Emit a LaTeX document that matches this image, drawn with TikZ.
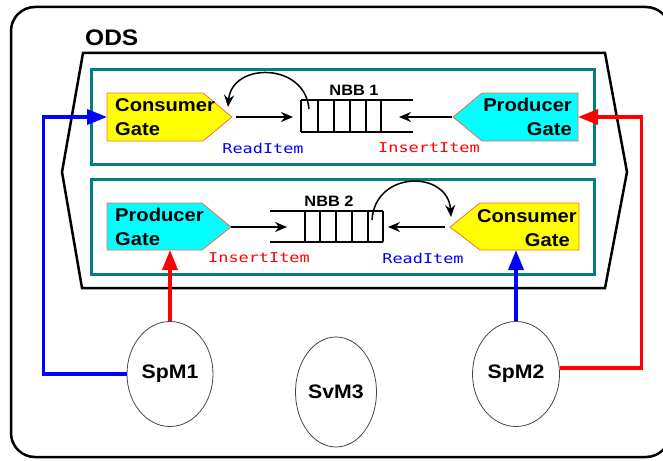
\documentclass[tikz,border=0pt]{standalone}
\usepackage{fontspec}
\setmainfont{Liberation Sans}[FakeStretch=1.09]
\newfontfamily\labelmono{DejaVu Sans Mono}[FakeStretch=1.25]
\usetikzlibrary{arrows.meta,shapes.geometric}
\definecolor{tealbox}{RGB}{0,128,128}
\definecolor{gateedge}{RGB}{255,105,60}
\definecolor{gateyellow}{RGB}{255,255,0}
\definecolor{gatecyan}{RGB}{0,255,255}
\definecolor{ellgray}{RGB}{70,70,70}
\begin{document}
\begin{tikzpicture}[x=1pt,y=-1pt,
  frame/.style={line width=2.5pt},
  tealframe/.style={draw=tealbox,line width=3pt},
  gateY/.style={fill=gateyellow,draw=gateedge,line width=0.8pt},
  gateC/.style={fill=gatecyan,draw=gateedge,line width=0.8pt},
  gatetxt/.style={inner sep=0pt,font=\bfseries\fontsize{18.5}{24}\selectfont},
  nbbtxt/.style={inner sep=0pt,font=\bfseries\fontsize{15}{18}\selectfont},
  monotxt/.style={inner sep=0pt,font=\labelmono\fontsize{13.5}{15}\selectfont},
  queue/.style={line width=1.5pt},
  flow/.style={line width=1.5pt,-{Stealth[length=12pt,width=10pt]}},
  bigred/.style={draw=red,line width=3.5pt,-{Triangle[length=20pt,width=15pt]}},
  bigblue/.style={draw=blue,line width=3.5pt,-{Triangle[length=20pt,width=15pt]}},
  module/.style={ellipse,draw=ellgray,line width=0.8pt,inner sep=0pt,
    font=\bfseries\fontsize{19.5}{22}\selectfont}]
\useasboundingbox (0,0) rectangle (663,460);
\clip (0,0) rectangle (663,460);
% outer frame
\draw[frame,rounded corners=24pt] (11,7) rectangle (670,457);
\node[inner sep=0pt,anchor=south west,font=\bfseries\fontsize{22.5}{26}\selectfont] (ods) at (85,46) {ODS};
% ODS polygon
\draw[frame,line join=miter] (83,53) -- (605,53) -- (627,172) -- (605,288) -- (82,288) -- (62,172) -- cycle;
% teal boxes
\draw[tealframe] (91,69) rectangle (594,164);
\draw[tealframe] (91,179) rectangle (594,274);

% ---- upper box ----
\draw[gateY] (107,93) -- (203,93) -- (232,117) -- (203,141) -- (107,141) -- cycle;
\coordinate (cg1w) at (107,117);
\coordinate (cg1tip) at (236,117);
\coordinate (cg1arc) at (228,107);
\node[gatetxt,anchor=north west,align=left] (cg1) at (115,98) {Consumer\\Gate};

\draw[gateC] (578,93) -- (482,93) -- (453,117) -- (482,141) -- (578,141) -- cycle;
\coordinate (pg1e) at (578,117);
\coordinate (pg1tip) at (452,117);
\node[gatetxt,anchor=north east,align=right] (pg1) at (572,98) {Producer\\Gate};

% queue 1
\draw[queue] (301,100) -- (413,100);
\draw[queue] (301,132) -- (413,132);
\foreach \x in {301,318,334,350,366,381} \draw[queue] (\x,100) -- (\x,132);
\coordinate (q1in) at (293,117);
\coordinate (q1out) at (399,117);
\coordinate (q1cell) at (309,109);
\node[nbbtxt,anchor=south] (nbb1) at (354,96) {NBB 1};

\draw[flow] (cg1tip) -- (q1in);
\draw[flow] (pg1tip) -- (q1out);
\draw[flow] (q1cell) .. controls (305,62) and (232,62) .. (cg1arc);
\node[monotxt,text=blue] (ri1) at (263,148) {ReadItem};
\node[monotxt,text=red] (ii1) at (429,148) {InsertItem};

% ---- lower box ----
\draw[gateC] (107,203) -- (202,203) -- (231,227) -- (202,250) -- (107,250) -- cycle;
\coordinate (pg2tip) at (231,227);
\coordinate (pg2s) at (170,250);
\node[gatetxt,anchor=north west,align=left] (pg2) at (115,208) {Producer\\Gate};

\draw[gateY] (579,203) -- (480,203) -- (450,227) -- (480,250) -- (579,250) -- cycle;
\coordinate (cg2tip) at (445,227);
\coordinate (cg2arc) at (451,217);
\coordinate (cg2s) at (516,250);
\node[gatetxt,anchor=north east,align=right] (cg2) at (577,209) {Consumer\\Gate\hspace*{7pt}};

% queue 2
\draw[queue] (270,211) -- (383,211);
\draw[queue] (270,242) -- (383,242);
\foreach \x in {305,320,336,352,368,383} \draw[queue] (\x,211) -- (\x,242);
\coordinate (q2in) at (287,227);
\coordinate (q2out) at (388,227);
\coordinate (q2cell) at (372,220);
\node[nbbtxt,anchor=south] (nbb2) at (329,207) {NBB 2};

\draw[flow] (pg2tip) -- (q2in);
\draw[flow] (cg2tip) -- (q2out);
\draw[flow] (q2cell) .. controls (375,170) and (448,170) .. (cg2arc);
\node[monotxt,text=red] (ii2) at (259,258) {InsertItem};
\node[monotxt,text=blue] (ri2) at (423,258) {ReadItem};

% ---- modules ----
\node[module,minimum width=86pt,minimum height=105pt] (spm1) at (170,374) {SpM1};
\node[module,minimum width=81pt,minimum height=110pt] (svm3) at (336,392) {SvM3};
\node[module,minimum width=87pt,minimum height=105pt] (spm2) at (516,374) {SpM2};

% ---- connectors ----
\draw[bigred] (spm1.north) -- (pg2s);
\draw[bigblue] (spm2.north) -- (cg2s);
\draw[bigblue] (spm1.west) -- ++(-83,0) |- (cg1w);
\draw[bigred] (spm2.8) -- ++(82,0) |- (pg1e);
\end{tikzpicture}
\end{document}
